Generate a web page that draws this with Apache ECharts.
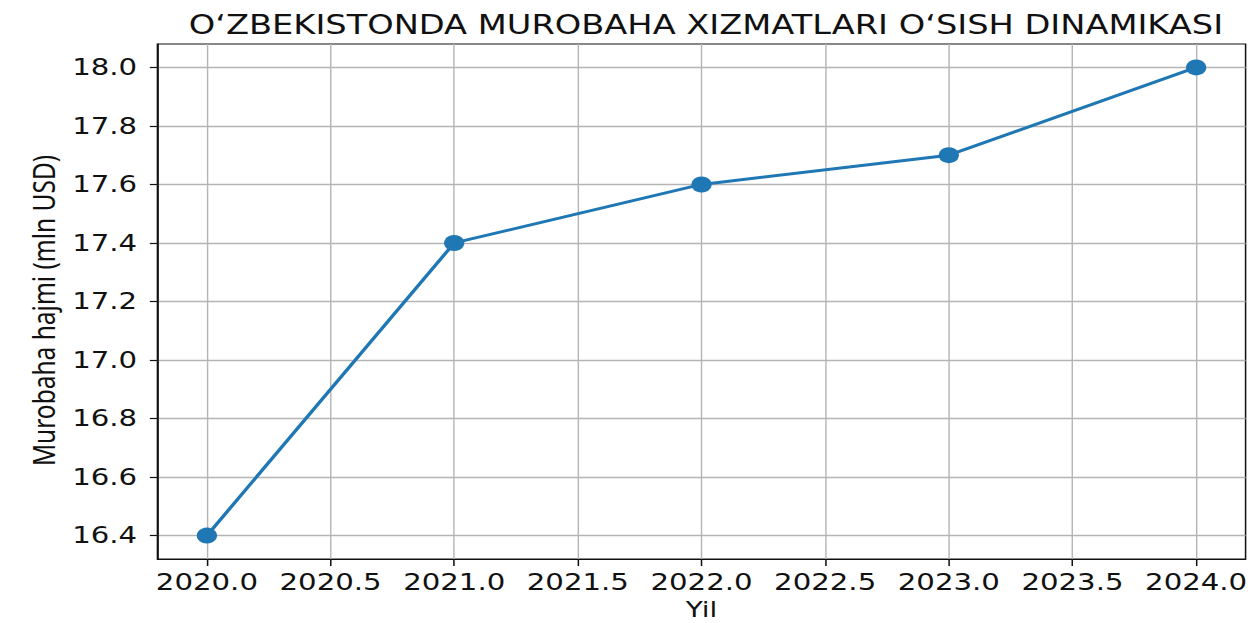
<!DOCTYPE html>
<html>
<head>
<meta charset="utf-8">
<script src="https://cdn.jsdelivr.net/npm/echarts@6/dist/echarts.min.js"></script>
<style>
  html, body { margin: 0; padding: 0; background: #ffffff; overflow: hidden; }
  #wrap { width: 1257px; height: 623px; position: relative; overflow: hidden; background: #ffffff; }
  #chart { width: 990px; height: 623px; position: absolute; left: 0; top: 0;
           transform: scaleX(1.2697); transform-origin: 0 0; }
</style>
</head>
<body>
<div id="wrap"><div id="chart"></div></div>
<script>
// ---- data ----
const years = [2020, 2021, 2022, 2023, 2024];
const volumes = [16.4, 17.4, 17.6, 17.7, 18.0];
const xTicks = [2020.0, 2020.5, 2021.0, 2021.5, 2022.0, 2022.5, 2023.0, 2023.5, 2024.0];
const yTicks = [16.4, 16.6, 16.8, 17.0, 17.2, 17.4, 17.6, 17.8, 18.0];
const titleText = 'O‘ZBEKISTONDA MUROBAHA XIZMATLARI O‘SISH DINAMIKASI';
const xName = 'Yil';
const yName = 'Murobaha hajmi (mln USD)';

const chart = echarts.init(document.getElementById('chart'), null, { renderer: 'svg' });
const font = 'DejaVu Sans';
const gridColor = '#b4b4b4';

chart.setOption({
  backgroundColor: '#ffffff',
  animation: false,
  title: {
    text: titleText,
    left: 551,
    textAlign: 'center',
    top: 6,
    textStyle: { fontFamily: font, fontSize: 26.5, fontWeight: 'normal', color: '#111' }
  },
  grid: {
    left: 124, right: 9, top: 44, bottom: 64,
    outerBoundsMode: 'none',
    containLabel: false,
    show: true, borderColor: '#111', borderWidth: 1.2, backgroundColor: 'transparent'
  },
  xAxis: {
    type: 'value',
    min: 2019.8, max: 2024.2,
    name: xName, nameLocation: 'middle', nameGap: 40,
    nameTextStyle: { fontFamily: font, fontSize: 22, color: '#111' },
    axisLine: { show: true, lineStyle: { color: '#111', width: 1.2 } },
    axisTick: { show: true, length: 7, lineStyle: { color: '#111', width: 1.2 }, customValues: xTicks },
    axisLabel: { customValues: xTicks, margin: 12, fontFamily: font, fontSize: 23, color: '#111',
                 formatter: v => v.toFixed(1) },
    splitLine: { show: true, lineStyle: { color: gridColor, width: 1.1 } }
  },
  yAxis: {
    type: 'value',
    min: 16.32, max: 18.08,
    name: yName, nameLocation: 'middle', nameGap: 76, nameRotate: 90,
    nameTextStyle: { fontFamily: 'Noto Sans', fontSize: 24.5, color: '#111', padding: [0, 18, 0, 0] },
    axisLine: { show: true, lineStyle: { color: '#111', width: 1.2 } },
    axisTick: { show: true, length: 6, lineStyle: { color: '#111', width: 1.2 }, customValues: yTicks },
    axisLabel: { customValues: yTicks, margin: 16, fontFamily: font, fontSize: 23, color: '#111',
                 formatter: v => v.toFixed(1) },
    splitLine: { show: true, lineStyle: { color: gridColor, width: 1.3 } }
  },
  series: [{
    type: 'line',
    data: years.map((y, i) => [y, volumes[i]]),
    symbol: 'circle',
    symbolSize: 16,
    lineStyle: { color: '#1f77b4', width: 2.9 },
    itemStyle: { color: '#1f77b4' },
    z: 5
  }]
});
</script>
</body>
</html>
